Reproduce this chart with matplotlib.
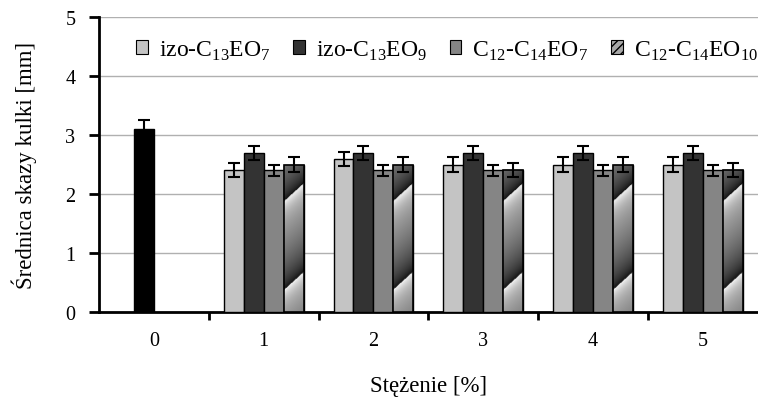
import matplotlib.pyplot as plt
import numpy as np
from matplotlib.patches import Patch

plt.rcParams['font.family'] = ['Liberation Serif', 'DejaVu Serif']
plt.rcParams['mathtext.fontset'] = 'custom'
plt.rcParams['mathtext.rm'] = 'Liberation Serif'

### dane
categories = ['0', '1', '2', '3', '4', '5']
base_value = 3.1          # próbka bez dodatku (czarny słupek)
base_err = 0.15
series_names = [r'izo-C$_{\mathregular{13}}$EO$_{\mathregular{7}}$',
                r'izo-C$_{\mathregular{13}}$EO$_{\mathregular{9}}$',
                r'C$_{\mathregular{12}}$-C$_{\mathregular{14}}$EO$_{\mathregular{7}}$',
                r'C$_{\mathregular{12}}$-C$_{\mathregular{14}}$EO$_{\mathregular{10}}$']
izo_c13eo7 = [2.4, 2.6, 2.5, 2.5, 2.5]
izo_c13eo9 = [2.7, 2.7, 2.7, 2.7, 2.7]
c12c14eo7 = [2.4, 2.4, 2.4, 2.4, 2.4]
c12c14eo10 = [2.5, 2.5, 2.4, 2.5, 2.4]
errors = [0.12, 0.12, 0.1, 0.12]
colors = ['#c4c4c4', '#333333', '#858585', '#a8a8a8']

fig = plt.figure(figsize=(7.58, 4.02), dpi=100)
ax = fig.add_axes([0.1306, 0.2214, 0.869, 0.7338])

w = 20 / 110
offsets = [-1.5 * w, -0.5 * w, 0.5 * w, 1.5 * w]
x = np.arange(1, 6)

ax.bar(0 - 0.5 * w, base_value, w, color='black', edgecolor='black', zorder=3)
ax.errorbar(0 - 0.5 * w, base_value, yerr=base_err, fmt='none', ecolor='black',
            capsize=4, elinewidth=1.5, capthick=1.5, zorder=5)

all_series = [izo_c13eo7, izo_c13eo9, c12c14eo7, c12c14eo10]
bars_last = None
for i, vals in enumerate(all_series):
    bars = ax.bar(x + offsets[i], vals, w, color=colors[i], edgecolor='black',
                  linewidth=1.0, zorder=3)
    ax.errorbar(x + offsets[i], vals, yerr=errors[i], fmt='none', ecolor='black',
                capsize=4, elinewidth=1.5, capthick=1.5, zorder=5)
    if i == 3:
        bars_last = bars

# gradientowe ukośne pasy w ostatniej serii
px_per_unit = 59.0
for b in bars_last:
    x0, wd, h = b.get_x(), b.get_width(), b.get_height()
    nr, nc = int(h * px_per_unit), 40
    py = (np.arange(nr) + 0.5)[:, None]
    dx = (np.arange(nc) + 0.5)[None, :] / nc * 20 - 10
    phase = ((py - 0.9 * dx - 31) % 88) / 88
    tex = 0.03 + 0.68 * phase ** 0.55 + 0.25 * phase ** 10
    im = ax.imshow(tex, cmap='gray', vmin=0, vmax=1, origin='lower', aspect='auto',
                   extent=(x0, x0 + wd, 0, h), interpolation='bilinear', zorder=3.5)
    im.set_clip_path(b)
    ax.bar(x0 + wd / 2, h, wd, color='none', edgecolor='black', linewidth=1.2, zorder=4)

ax.set_xlim(-0.5, 5.5)
ax.set_ylim(0, 5)
ax.set_yticks(range(6))
ax.set_xticks(range(6))
ax.set_xticklabels(categories)
ax.set_xticks(np.arange(0.5, 5.5, 1), minor=True)
ax.tick_params(axis='x', which='major', length=0, pad=14, labelsize=14.5)
ax.tick_params(axis='x', which='minor', length=6, width=2, direction='out')
ax.tick_params(axis='y', length=7, width=2, pad=10, labelsize=14.5)

ax.grid(axis='y', color='#b0b0b0', linewidth=1, zorder=0)
ax.set_axisbelow(True)
for s in ['top', 'right']:
    ax.spines[s].set_visible(False)
for s in ['left', 'bottom']:
    ax.spines[s].set_linewidth(2)

ax.set_ylabel('Średnica skazy kulki [mm]', fontsize=16.5, labelpad=20)
ax.set_xlabel('Stężenie [%]', fontsize=16.5, labelpad=18)

handles = [Patch(facecolor=colors[0], edgecolor='black', linewidth=0.8),
           Patch(facecolor=colors[1], edgecolor='black', linewidth=0.8),
           Patch(facecolor=colors[2], edgecolor='black', linewidth=0.8),
           Patch(facecolor=colors[3], edgecolor='black', linewidth=0.8, hatch='////')]
ax.legend(handles, series_names, ncol=4, loc='center right', bbox_to_anchor=(1.0, 0.888),
          frameon=False, fontsize=17, handlelength=0.5, handleheight=0.5,
          handletextpad=0.47, columnspacing=0.95, borderaxespad=0, borderpad=0)

fig.savefig('out.png', dpi=100)
